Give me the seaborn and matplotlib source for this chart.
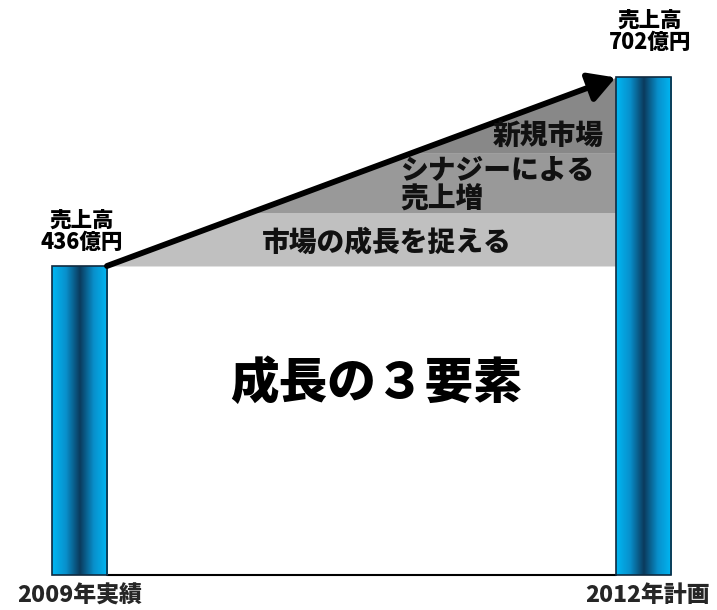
import numpy as np
import pandas as pd
import matplotlib
matplotlib.use("Agg")
import matplotlib.pyplot as plt
from matplotlib.colors import LinearSegmentedColormap
import seaborn as sns

# ---- data ----
years = ["2009年実績", "2012年計画"]
sales = [436, 702]
band_bounds = [436, 511, 596, 702]
band_labels = ["市場の成長を捉える", "シナジーによる\n売上増", "新規市場"]
center_title = "成長の３要素"

sns.set_theme(style="white")
plt.rcParams["font.family"] = ["Noto Sans CJK JP", "DejaVu Sans"]

W = 0.0976
fig = plt.figure(figsize=(7.17, 6.10), dpi=100)
ax = fig.add_axes([0, 0, 1, 1])
df = pd.DataFrame({"year": years, "sales": sales})
sns.barplot(data=df, x="year", y="sales", width=W, color="#00B0F0",
            edgecolor="#0F2A40", linewidth=1.2, ax=ax, zorder=3)

cmap = LinearSegmentedColormap.from_list(
    "bar", ["#00B8F4", "#0890CC", "#0B3A5C", "#0890CC", "#00B8F4"])
grad = np.linspace(0, 1, 256).reshape(1, -1)
for p in list(ax.patches):
    x0, y0, w, h = p.get_x(), p.get_y(), p.get_width(), p.get_height()
    im = ax.imshow(grad, extent=[x0, x0 + w, y0, y0 + h], aspect="auto",
                   cmap=cmap, zorder=3.5)
    im.set_clip_path(p)
    p.set_facecolor("none")
    p.set_zorder(4)

# grey bands bounded by the growth line
xs = np.linspace(W / 2, 1 - W / 2, 800)
line = sales[0] + (sales[1] - sales[0]) * (xs - W / 2) / (1 - W)
band_colors = ["#C0C0C0", "#999999", "#888888"]
for lo, hi, c in zip(band_bounds[:-1], band_bounds[1:], band_colors):
    top = np.minimum(hi, line)
    ax.fill_between(xs, lo, top, where=line >= lo, color=c, linewidth=0, zorder=1)

ax.plot([W / 2, 1 - W / 2], [0, 0], color="black", lw=1.5, zorder=2)

ax.annotate("", xy=(1 - W / 2, sales[1]), xytext=(W / 2, sales[0]),
            arrowprops=dict(arrowstyle="-|>,head_length=0.8,head_width=0.45",
                            lw=4.2, color="black", mutation_scale=20,
                            shrinkA=0, shrinkB=0), zorder=5)

ax.set_xlim(-0.141, 1.131)
ax.set_ylim(-49.4, 811.3)
ax.axis("off")

def F(px, py):
    return px / 717, 1 - py / 610

lab = dict(ha="center", va="center", fontsize=15.5, weight="heavy",
           linespacing=0.95, color="black")
fig.text(*F(82, 231), f"売上高\n{sales[0]}億円", **lab)
fig.text(*F(650, 31), f"売上高\n{sales[1]}億円", **lab)
fig.text(*F(80, 596), years[0], ha="center", va="center", fontsize=16.5, weight="heavy")
fig.text(*F(648, 596), years[1], ha="center", va="center", fontsize=16.5, weight="heavy")

bt = dict(fontsize=20, weight="heavy", style="italic", color="#111111")
fig.text(*F(262, 242), band_labels[0], ha="left", va="center", **bt)
fig.text(*F(400, 185), band_labels[1], ha="left", va="center", linespacing=1.0, **bt)
fig.text(*F(604, 136), band_labels[2], ha="right", va="center", **bt)

fig.text(*F(376, 384), center_title, ha="center", va="center", fontsize=35,
         weight="heavy", color="black")

fig.savefig("out.png", dpi=100)
